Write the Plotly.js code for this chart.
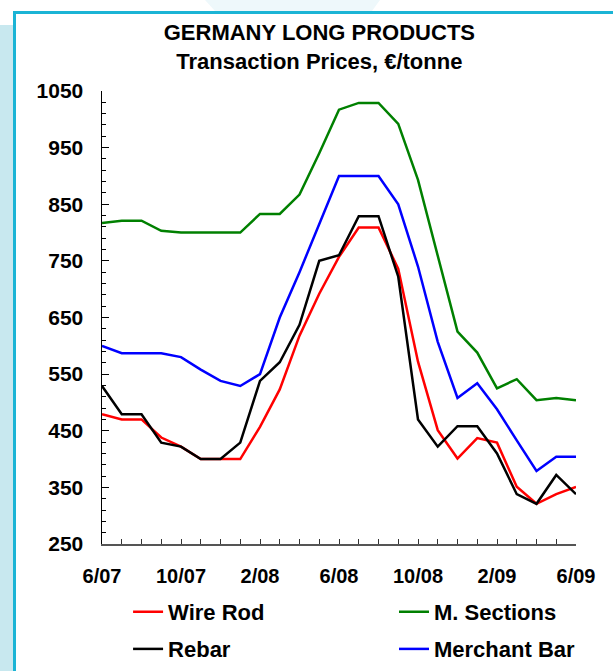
<!DOCTYPE html>
<html>
<head>
<meta charset="utf-8">
<script src="https://cdn.plot.ly/plotly-3.0.1.min.js"></script>
<style>
  html, body { margin:0; padding:0; background:#ffffff; }
  #wrap { position:relative; width:613px; height:671px; overflow:hidden; background:#ffffff; }
  #strip { position:absolute; left:0; top:25px; width:13px; height:646px; background:#c8e8ef; }
  #diag { position:absolute; left:0; top:0; width:613px; height:11px; background:#eef8fb;
          clip-path: polygon(205px 0, 380px 0, 372px 11px, 215px 11px); }
  #vline { position:absolute; left:13px; top:11px; width:2.5px; height:660px; background:#1bb4d5; }
  #hline { position:absolute; left:13px; top:11px; width:600px; height:2.5px; background:#1bb4d5; }
  #chart { position:absolute; left:0; top:0; width:613px; height:671px; }
</style>
</head>
<body>
<div id="wrap">
  <div id="strip"></div>
  <div id="diag"></div>
  <div id="vline"></div>
  <div id="hline"></div>
  <div id="chart"></div>
</div>
<script>
// Monthly observations, 6/07 .. 6/09
const months = ['6/07','7/07','8/07','9/07','10/07','11/07','12/07','1/08','2/08','3/08','4/08','5/08',
                '6/08','7/08','8/08','9/08','10/08','11/08','12/08','1/09','2/09','3/09','4/09','5/09','6/09'];
const wireRod     = [479, 470, 470, 438, 422, 400, 400, 400, 457, 523, 618, 692, 757, 809, 809, 736, 572, 451, 401, 437, 429, 351, 321, 338, 351];
const mSections   = [817, 821, 821, 803, 800, 800, 800, 800, 833, 833, 867, 940, 1017, 1029, 1029, 992, 893, 757, 625, 588, 525, 541, 504, 508, 504];
const rebar       = [529, 479, 479, 429, 422, 400, 400, 429, 538, 571, 637, 750, 760, 829, 829, 722, 470, 422, 458, 458, 410, 338, 321, 372, 338];
const merchantBar = [600, 587, 587, 587, 580, 558, 538, 529, 550, 650, 730, 815, 900, 900, 900, 850, 740, 607, 508, 534, 488, 433, 379, 404, 404];
const xTickLabels = ['6/07','10/07','2/08','6/08','10/08','2/09','6/09'];

const idx = months.map((m, i) => i);
const tickIdx = xTickLabels.map(l => months.indexOf(l));

const FONT = 'Liberation Sans, Arial, sans-serif';
function tr(name, y, color, legend) {
  return { type:'scatter', mode:'lines', name:name, x:idx, y:y, text:months,
           line:{color:color, width:2.5}, legend:legend };
}
const data = [
  tr('Wire Rod', wireRod, '#ff0000', 'legend'),
  tr('M. Sections', mSections, '#008000', 'legend2'),
  tr('Rebar', rebar, '#000000', 'legend3'),
  tr('Merchant Bar', merchantBar, '#0000ff', 'legend4')
];

function leg(x, y) {
  return {
    orientation:'h', xanchor:'left', yanchor:'middle', x:x, y:y,
    font:{family:FONT, size:22, color:'#000', weight:'bold'},
    bgcolor:'rgba(0,0,0,0)', borderwidth:0
  };
}

const layout = {
  width:613, height:671,
  margin:{l:102, r:37, t:91, b:127, autoexpand:false},
  paper_bgcolor:'rgba(0,0,0,0)', plot_bgcolor:'rgba(0,0,0,0)',
  showlegend:true,
  title:{
    text:'<b>GERMANY LONG PRODUCTS</b><br><b>Transaction Prices, €/tonne</b>',
    font:{family:FONT, size:22, color:'#000'},
    x:0.521, xref:'container', xanchor:'center',
    y:0.9405, yref:'container', yanchor:'top'
  },
  xaxis:{
    range:[0, 24], showgrid:false, zeroline:false,
    showline:true, linecolor:'#555', linewidth:1.5,
    tickmode:'array', tickvals:tickIdx, ticktext:xTickLabels,
    ticks:'inside', ticklen:5, tickcolor:'#333', tickwidth:1,
    minor:{ticks:'inside', ticklen:5, dtick:1, tick0:0, tickcolor:'#333', tickwidth:1, showgrid:false},
    ticklabelstandoff:13,
    tickfont:{family:FONT, size:20, color:'#000', weight:'bold'}
  },
  yaxis:{
    range:[250, 1050], showgrid:false, zeroline:false,
    showline:true, linecolor:'#000', linewidth:1.5,
    tick0:250, dtick:100,
    ticks:'inside', ticklen:7, tickcolor:'#000', tickwidth:1,
    minor:{ticks:'inside', ticklen:4, dtick:20, tick0:250, tickcolor:'#000', tickwidth:1, showgrid:false},
    ticklabelstandoff:13,
    tickfont:{family:FONT, size:21, color:'#000', weight:'bold'}
  },
  legend:  leg(0.055, -0.150),
  legend2: leg(0.616, -0.150),
  legend3: leg(0.055, -0.232),
  legend4: leg(0.616, -0.232)
};

Plotly.newPlot('chart', data, layout, {displayModeBar:false, staticPlot:true});
</script>
</body>
</html>
